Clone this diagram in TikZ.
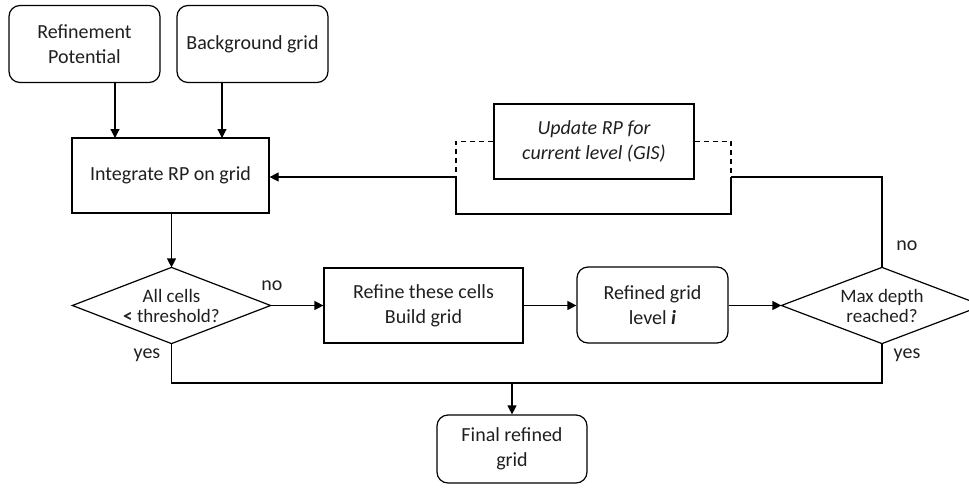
\documentclass[tikz,border=0pt]{standalone}
\usepackage{fontspec}
\setmainfont{Carlito}
\usetikzlibrary{arrows.meta,calc}

\begin{document}
\begin{tikzpicture}[x=1pt,y=-1pt,
  line width=1.2pt,
  every node/.style={font=\fontsize{20}{25}\selectfont, text=black!88},
  box/.style={draw, rectangle, inner sep=0pt, align=center},
  rbox/.style={box, rounded corners=11pt},
  % decision node: a rectangle whose side midpoints carry a drawn diamond
  decide/.style={rectangle, inner sep=0pt, align=center,
    font=\fontsize{19}{20}\selectfont,
    append after command={
      \pgfextra{\let\decname\tikzlastnode}
      (\decname.north) edge[draw=none] (\decname.south)
      \pgfextra{
        \draw (\decname.north) -- (\decname.east) -- (\decname.south)
              -- (\decname.west) -- cycle;}
    }},
  lbl/.style={font=\fontsize{20}{24}\selectfont},
  arr/.style={-{Triangle[length=9pt,width=9pt]}}
]
\useasboundingbox (0,0) rectangle (969,493);

% sources
\node[rbox, minimum width=151pt, minimum height=77pt] (rp) at (84.5,44) {Refinement\\Potential};
\node[rbox, minimum width=151pt, minimum height=77pt] (bg) at (252.5,44) {Background grid};

% integration and refinement loop
\node[box, minimum width=197pt, minimum height=75pt] (integ) at (170.5,175.5) {Integrate RP on grid};
\node[box, minimum width=200pt, minimum height=75pt] (upd) at (594,141.5) {\itshape Update RP for\\\itshape current level (GIS)};

\node[decide, minimum width=197pt, minimum height=75pt] (d1) at (171.5,305.5) {All cells\\\textbf{<} threshold?};
\node[box, minimum width=199pt, minimum height=75pt] (ref) at (423.5,305.5) {Refine these cells\\Build grid};
\node[rbox, minimum width=151pt, minimum height=76pt] (lvl) at (652.5,305) {Refined grid\\level \textbf{\itshape i}};
\node[decide, minimum width=200pt, minimum height=75pt] (d2) at (882,305.5) {Max depth\\reached?};

\node[rbox, minimum width=150pt, minimum height=68pt] (fin) at (512,449) {Final refined\\grid};

% bypass around the update step
\coordinate (byL) at (456,177);
\coordinate (byR) at (731,177);
\coordinate (bot) at (512,383);

% connectors
\draw[arr] (rp.south -| 115,0) -- (115,138);
\draw[arr] (bg.south -| 222,0) -- (222,138);
\draw[arr] (integ.south -| d1.north) -- (d1.north);
\draw[arr] (d1.east) -- (ref.west);
\draw[arr] (ref.east) -- (ref.east -| lvl.west);
\draw[arr] (lvl.east |- d2.west) -- (d2.west);

\draw (d2.north) |- (byR);
\draw (byR) -- (731,214) -| (byL);
\draw[arr] (byL) -- (byL -| integ.east);
\draw[dash pattern=on 5pt off 4pt] (upd.west) -| (byL);
\draw[dash pattern=on 5pt off 4pt] (upd.east) -| (byR);

\draw (d1.south) |- (bot) -| (d2.south);
\draw[arr] (bot) -- (fin.north);

% branch labels
\node[lbl] at (272,286) {no};
\node[lbl] at (147,355) {yes};
\node[lbl] at (907,246) {no};
\node[lbl] at (907,355) {yes};
\end{tikzpicture}
\end{document}
